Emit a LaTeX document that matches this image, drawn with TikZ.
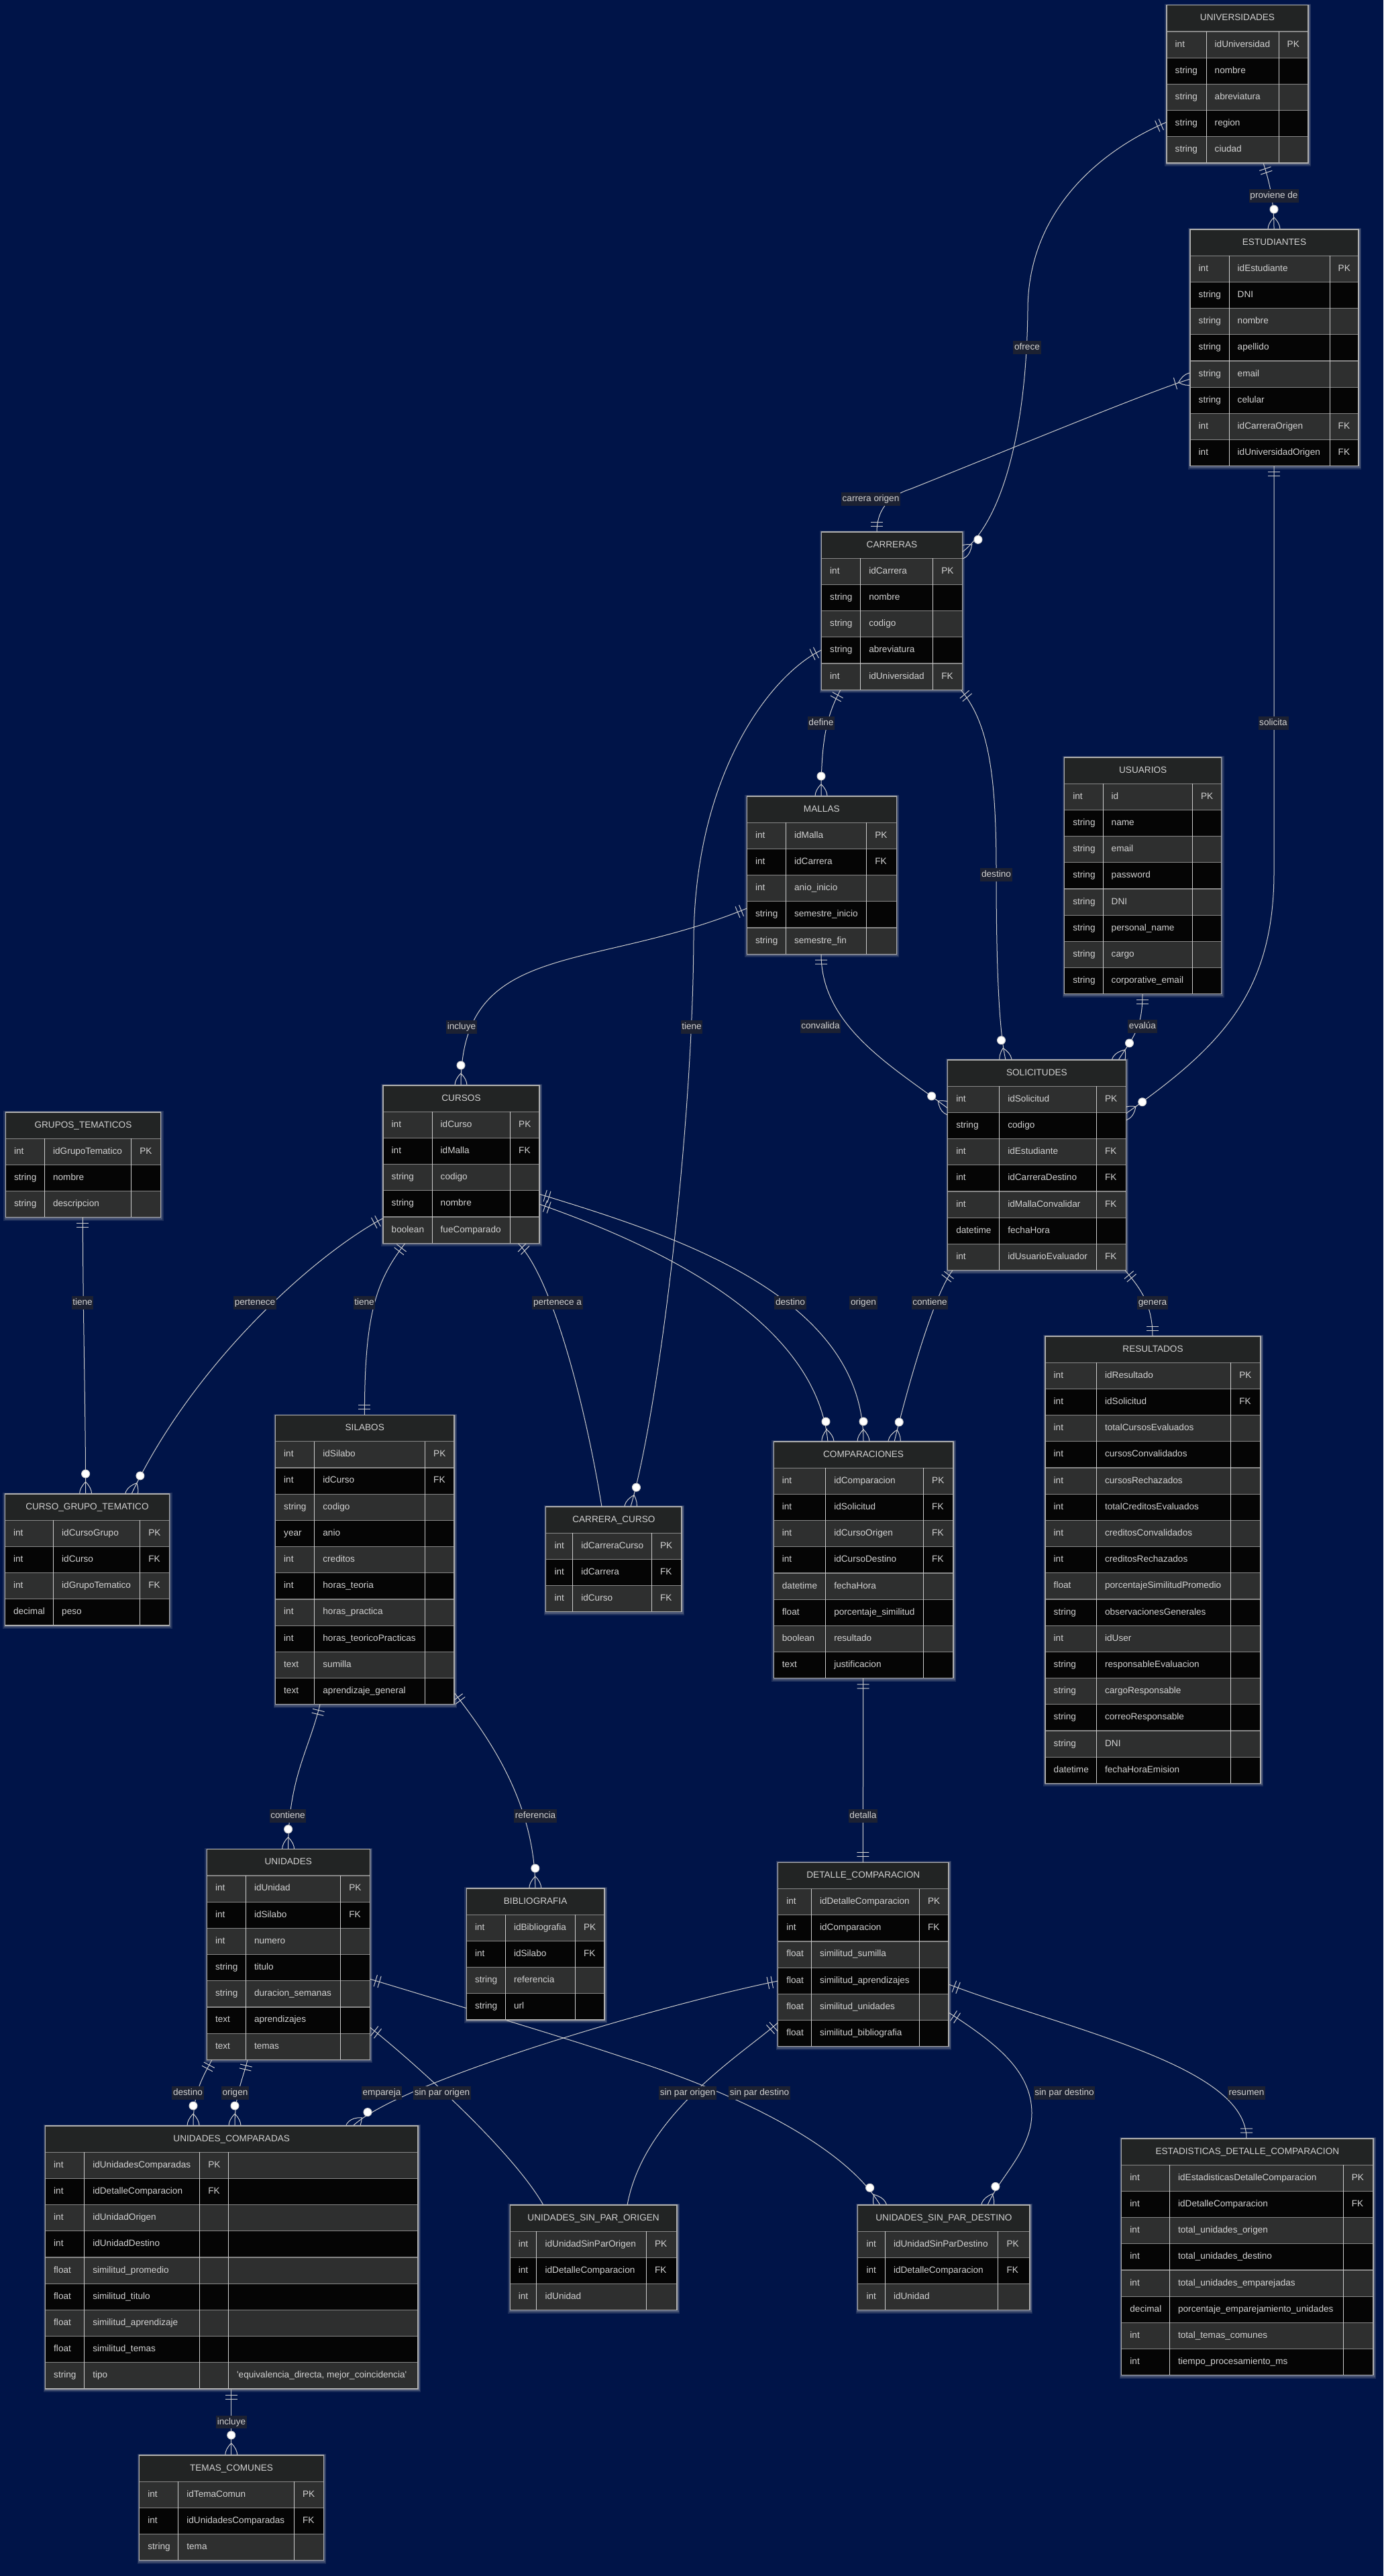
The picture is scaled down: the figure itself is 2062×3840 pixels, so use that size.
\documentclass[tikz,border=0pt]{standalone}
\usepackage{fontspec}
\setmainfont{Liberation Sans}
\usetikzlibrary{decorations.markings}
\definecolor{bgc}{RGB}{0,20,72}
\definecolor{hdrc}{RGB}{34,36,36}
\definecolor{rowa}{RGB}{46,47,47}
\definecolor{rowb}{RGB}{5,5,5}
\definecolor{hline}{RGB}{135,135,135}
\definecolor{vline}{RGB}{205,205,205}
\definecolor{bordc}{RGB}{175,175,175}
\definecolor{txtc}{RGB}{210,210,210}
\definecolor{edgec}{RGB}{205,205,205}
\definecolor{labelfill}{RGB}{28,33,50}
\definecolor{glowc}{RGB}{185,185,185}
\pgfdeclarelayer{back}
\pgfdeclarelayer{edges}
\pgfdeclarelayer{lblback}
\pgfdeclarelayer{lbls}
\pgfsetlayers{back,edges,lblback,lbls,main}
\newcommand\rowh{39.2}
\newcommand\tfont{\fontsize{13.6}{16}\selectfont}
\tikzset{
  ercell/.style={anchor=west, inner sep=0pt, text=txtc, font=\tfont, text height=9.8pt, text depth=2.9pt},
  erhead/.style={anchor=center, inner sep=0pt, text=txtc, font=\tfont, text height=9.8pt, text depth=2.9pt},
  erlabeltext/.style={anchor=center, text=txtc, font=\tfont, inner xsep=1.5pt, inner ysep=3pt, text height=9.8pt, text depth=2.9pt},
  hsep/.style={draw=hline, line width=1.2pt},
  vsep/.style={draw=vline, line width=1pt},
  tborder/.style={draw=bordc, line width=1.2pt},
  erline/.style={draw=edgec, line width=1pt},
  ermark/.style={draw=edgec, line width=1pt},
  onestart/.style={postaction={decorate,decoration={markings,
     mark=at position 0 with {\draw[ermark] (9pt,-9pt)--(9pt,9pt) (15pt,-9pt)--(15pt,9pt);}}}},
  oneend/.style={postaction={decorate,decoration={markings,
     mark=at position 1 with {\draw[ermark] (-9pt,-9pt)--(-9pt,9pt) (-15pt,-9pt)--(-15pt,9pt);}}}},
  zmanyend/.style={postaction={decorate,decoration={markings,
     mark=at position 1 with {\draw[ermark] (-18pt,0pt) .. controls (-6pt,-12pt) and (6pt,-12pt) .. (18pt,0pt) .. controls (6pt,12pt) and (-6pt,12pt) .. cycle;
        \filldraw[ermark,fill=white] (-30pt,0pt) circle[radius=6pt];}}}},
  omanyend/.style={postaction={decorate,decoration={markings,
     mark=at position 1 with {\draw[ermark] (-18pt,0pt) .. controls (-6pt,-12pt) and (6pt,-12pt) .. (18pt,0pt) .. controls (6pt,12pt) and (-6pt,12pt) .. cycle;
        \draw[ermark] (-23pt,-9pt)--(-23pt,9pt);}}}},
}
% #1 name, #2 title, #3 x0, #4 x1, #5 x2, #6 x3, #7 y0, #8 number of rows, #9 rows
\newcommand\ertab[9]{%
  \pgfmathsetmacro\tbot{#7+\rowh*(#8+1)}%
  \pgfmathsetmacro\tabw{#6-#3}%
  \pgfmathsetmacro\tabh{\tbot-#7}%
  \fill[glowc,opacity=0.16] ({#3-3},{#7-2}) rectangle ({#6+4},{\tbot+5});
  \fill[glowc,opacity=0.28] ({#3-1.5},{#7-1}) rectangle ({#6+2.5},{\tbot+3});
  \fill[hdrc] (#3,#7) rectangle (#6,{#7+\rowh});
  \node[erhead] (#1-h) at ({(#3+#6)/2},{#7+\rowh/2}) {#2};
  \foreach [count=\ri from 0] \cA/\cB/\cC in {#9} {%
    \pgfmathsetmacro\yt{#7+\rowh*(\ri+1)}%
    \pgfmathsetmacro\ym{\yt+\rowh/2}%
    \ifodd\ri\relax \def\rc{rowb}\else\def\rc{rowa}\fi
    \fill[\rc] (#3,\yt) rectangle (#6,{\yt+\rowh});
    \draw[hsep] (#3,\yt) -- (#6,\yt);
    \node[ercell] (#1-a\ri) at ({#3+12.5},\ym) {\cA};
    \node[ercell] (#1-b\ri) at ({#4+12.5},\ym) {\cB};
    \node[ercell] (#1-c\ri) at ({#5+12.5},\ym) {\cC};
  }
  \draw[vsep] (#4,{#7+\rowh}) -- (#4,\tbot) (#5,{#7+\rowh}) -- (#5,\tbot);
  \draw[tborder] (#3,#7) rectangle (#6,\tbot);
  \node[inner sep=0pt, outer sep=0pt, minimum width=\tabw pt, minimum height=\tabh pt, anchor=north west] (#1) at (#3,#7) {};
}
% connector label: text node on its own layer, plain fill behind it
\newcommand\erlab[4]{%
  \begin{pgfonlayer}{lbls}\node[erlabeltext] (#1) at (#2,#3) {#4};\end{pgfonlayer}%
  \begin{pgfonlayer}{lblback}\fill[labelfill] (#1.south west) rectangle (#1.north east);\end{pgfonlayer}%
}
\begin{document}
\begin{tikzpicture}[x=1pt,y=-1pt]
\useasboundingbox (0,0) rectangle (2062,3840);
\begin{pgfonlayer}{back}
\fill[bgc] (0,0) rectangle (2062,3840);
\end{pgfonlayer}

\ertab{univ}{UNIVERSIDADES}{1739}{1798}{1906}{1950}{7.8}{5}{int/idUniversidad/PK, string/nombre/{}, string/abreviatura/{}, string/region/{}, string/ciudad/{}}
\ertab{est}{ESTUDIANTES}{1774}{1832}{1982}{2025}{342}{8}{int/idEstudiante/PK, string/DNI/{}, string/nombre/{}, string/apellido/{}, string/email/{}, string/celular/{}, int/idCarreraOrigen/FK, int/idUniversidadOrigen/FK}
\ertab{car}{CARRERAS}{1224.5}{1282.6}{1390.6}{1434.4}{793}{5}{int/idCarrera/PK, string/nombre/{}, string/codigo/{}, string/abreviatura/{}, int/idUniversidad/FK}
\ertab{mal}{MALLAS}{1113.4}{1171.4}{1291.7}{1336.2}{1187}{5}{int/idMalla/PK, int/idCarrera/FK, int/anio\_inicio/{}, string/semestre\_inicio/{}, string/semestre\_fin/{}}
\ertab{usu}{USUARIOS}{1586.6}{1644}{1777.4}{1820.7}{1129}{8}{int/id/PK, string/name/{}, string/email/{}, string/password/{}, string/DNI/{}, string/personal\_name/{}, string/cargo/{}, string/corporative\_email/{}}
\ertab{sol}{SOLICITUDES}{1412.6}{1489.6}{1634.3}{1678.2}{1580}{7}{int/idSolicitud/PK, string/codigo/{}, int/idEstudiante/FK, int/idCarreraDestino/FK, int/idMallaConvalidar/FK, datetime/fechaHora/{}, int/idUsuarioEvaluador/FK}
\ertab{gru}{GRUPOS\_TEMATICOS}{8.4}{66.4}{195.6}{239.5}{1658}{3}{int/idGrupoTematico/PK, string/nombre/{}, string/descripcion/{}}
\ertab{cur}{CURSOS}{571}{644}{760.5}{804}{1618}{5}{int/idCurso/PK, int/idMalla/FK, string/codigo/{}, string/nombre/{}, boolean/fueComparado/{}}
\ertab{cgt}{CURSO\_GRUPO\_TEMATICO}{7.3}{79.5}{208.7}{252.6}{2227}{4}{int/idCursoGrupo/PK, int/idCurso/FK, int/idGrupoTematico/FK, decimal/peso/{}}
\ertab{sil}{SILABOS}{410.5}{468.7}{633.5}{677}{2109.5}{10}{int/idSilabo/PK, int/idCurso/FK, string/codigo/{}, year/anio/{}, int/creditos/{}, int/horas\_teoria/{}, int/horas\_practica/{}, int/horas\_teoricoPracticas/{}, text/sumilla/{}, text/aprendizaje\_general/{}}
\ertab{cc}{CARRERA\_CURSO}{813.8}{853.6}{971.4}{1016}{2246}{3}{int/idCarreraCurso/PK, int/idCarrera/FK, int/idCurso/FK}
\ertab{com}{COMPARACIONES}{1153.2}{1230.6}{1376.5}{1421}{2149}{8}{int/idComparacion/PK, int/idSolicitud/FK, int/idCursoOrigen/FK, int/idCursoDestino/FK, datetime/fechaHora/{}, float/porcentaje\_similitud/{}, boolean/resultado/{}, text/justificacion/{}}
\ertab{res}{RESULTADOS}{1558}{1634.4}{1834.7}{1879}{1992}{16}{int/idResultado/PK, int/idSolicitud/FK, int/totalCursosEvaluados/{}, int/cursosConvalidados/{}, int/cursosRechazados/{}, int/totalCreditosEvaluados/{}, int/creditosConvalidados/{}, int/creditosRechazados/{}, float/porcentajeSimilitudPromedio/{}, string/observacionesGenerales/{}, int/idUser/{}, string/responsableEvaluacion/{}, string/cargoResponsable/{}, string/correoResponsable/{}, string/DNI/{}, datetime/fechaHoraEmision/{}}
\ertab{uni}{UNIDADES}{308.4}{366.3}{507.6}{551.2}{2756.7}{7}{int/idUnidad/PK, int/idSilabo/FK, int/numero/{}, string/titulo/{}, string/duracion\_semanas/{}, text/aprendizajes/{}, text/temas/{}}
\ertab{bib}{BIBLIOGRAFIA}{695.3}{753.3}{857.3}{901}{2815}{4}{int/idBibliografia/PK, int/idSilabo/FK, string/referencia/{}, string/url/{}}
\ertab{det}{DETALLE\_COMPARACION}{1159.6}{1209.3}{1370.4}{1414}{2776.3}{6}{int/idDetalleComparacion/PK, int/idComparacion/FK, float/similitud\_sumilla/{}, float/similitud\_aprendizajes/{}, float/similitud\_unidades/{}, float/similitud\_bibliografia/{}}
\ertab{uc}{UNIDADES\_COMPARADAS}{67.5}{125.6}{297.7}{623}{3169}{9}{int/idUnidadesComparadas/PK, int/idDetalleComparacion/FK, int/idUnidadOrigen/{}, int/idUnidadDestino/{}, float/similitud\_promedio/{}, float/similitud\_titulo/{}, float/similitud\_aprendizaje/{}, float/similitud\_temas/{}, string/tipo/{}}
\draw[vsep] (340.4,3208.2) -- (340.4,3561);
\node[ercell] (uc-d8) at (352.9,3541.4) {\textquotesingle equivalencia\_directa, mejor\_coincidencia\textquotesingle};
\ertab{uspo}{UNIDADES\_SIN\_PAR\_ORIGEN}{760.2}{799.9}{963.4}{1009}{3287}{3}{int/idUnidadSinParOrigen/PK, int/idDetalleComparacion/FK, int/idUnidad/{}}
\ertab{uspd}{UNIDADES\_SIN\_PAR\_DESTINO}{1278.8}{1319.3}{1487.9}{1535}{3287}{3}{int/idUnidadSinParDestino/PK, int/idDetalleComparacion/FK, int/idUnidad/{}}
\ertab{estd}{ESTADISTICAS\_DETALLE\_COMPARACION}{1671.7}{1743.4}{2002.2}{2047}{3188}{8}{int/idEstadisticasDetalleComparacion/PK, int/idDetalleComparacion/FK, int/total\_unidades\_origen/{}, int/total\_unidades\_destino/{}, int/total\_unidades\_emparejadas/{}, decimal/porcentaje\_emparejamiento\_unidades/{}, int/total\_temas\_comunes/{}, int/tiempo\_procesamiento\_ms/{}}
\ertab{tc}{TEMAS\_COMUNES}{207.7}{265.7}{438.3}{482.3}{3660}{3}{int/idTemaComun/PK, int/idUnidadesComparadas/FK, string/tema/{}}

% connector labels
\erlab{l1}{1899}{292}{proviene de}
\erlab{l2}{1531}{518}{ofrece}
\erlab{l3}{1298}{744}{carrera origen}
\erlab{l4}{1224}{1078}{define}
\erlab{l5}{1485}{1304}{destino}
\erlab{l6}{1898}{1078}{solicita}
\erlab{l7}{1031}{1531}{tiene}
\erlab{l8}{688}{1531}{incluye}
\erlab{l9}{1223}{1530}{convalida}
\erlab{l10}{1703}{1530}{evalúa}
\erlab{l11}{380}{1942}{pertenece}
\erlab{l12}{123}{1942}{tiene}
\erlab{l13}{543}{1942}{tiene}
\erlab{l14}{831}{1942}{pertenece a}
\erlab{l15}{1178}{1942}{destino}
\erlab{l16}{1287}{1942}{origen}
\erlab{l17}{1386}{1942}{contiene}
\erlab{l18}{1718}{1942}{genera}
\erlab{l19}{429}{2707}{contiene}
\erlab{l20}{798}{2707}{referencia}
\erlab{l21}{1286.5}{2707}{detalla}
\erlab{l22}{280}{3120}{destino}
\erlab{l23}{350.5}{3120}{origen}
\erlab{l24}{569}{3120}{empareja}
\erlab{l25}{659}{3120}{sin par origen}
\erlab{l26}{1025}{3120}{sin par origen}
\erlab{l27}{1132}{3120}{sin par destino}
\erlab{l28}{1586.5}{3120}{sin par destino}
\erlab{l29}{1858}{3120}{resumen}
\erlab{l30}{345}{3610.7}{incluye}

\begin{pgfonlayer}{edges}
% proviene de
\draw[erline,onestart,zmanyend] ([xshift=144pt]univ.south west) .. controls +(10,30) and +(0,-40) .. ([xshift=125pt]est.north west);
% ofrece
\coordinate (w2) at (1532,462);
\draw[erline,onestart,zmanyend] ([yshift=-174.2pt]univ.north west) .. controls +(-120,52) and (1532,330) .. (w2) .. controls (1530,640) and (1495,775) .. ([yshift=-30pt]car.north east);
% carrera origen
\coordinate (w3) at (1357,729);
\draw[erline,onestart,omanyend] ([xshift=82.5pt]car.north west) .. controls +(0,-30) and (1322,740) .. (w3) .. controls (1500,672) and +(-60,18) .. ([yshift=-223pt]est.north west);
% define
\draw[erline,onestart,zmanyend] ([xshift=28.5pt]car.south west) .. controls +(-22,40) and +(0,-80) .. ([xshift=110.6pt]mal.north west);
% destino (carreras -> solicitudes)
\coordinate (w5) at (1485,1300);
\draw[erline,onestart,zmanyend] ([xshift=207.5pt]car.south west) .. controls +(43,51) and (1485,1160) .. (w5) .. controls (1485,1440) and +(-10,-45) .. ([xshift=86.4pt]sol.north west);
% tiene (carreras -> carrera_curso)
\coordinate (w6) at (1034,1400);
\draw[erline,onestart,zmanyend] ([yshift=-176pt]car.north west) .. controls +(-74,36) and (1036,1150) .. (w6) .. controls (1032,1700) and (980,2110) .. ([xshift=126.2pt]cc.north west);
% solicita
\coordinate (w7) at (1899,1300);
\draw[erline,onestart,zmanyend] ([xshift=125pt]est.south west) -- (w7) .. controls (1899,1480) and (1820,1560) .. ([yshift=-80pt]sol.north east);
% incluye (mallas -> cursos)
\draw[erline,onestart,zmanyend] ([yshift=-167pt]mal.north west) .. controls (880,1450) and (687,1400) .. ([xshift=116pt]cur.north west);
% convalida
\draw[erline,onestart,zmanyend] ([xshift=110.6pt]mal.south west) .. controls +(0,108) and +(-82,-62) .. ([yshift=-72pt]sol.north west);
% evalua
\draw[erline,onestart,zmanyend] ([xshift=116.4pt]usu.south west) .. controls +(0,50) and +(23,-35) .. ([xshift=254.4pt]sol.north west);
% genera
\draw[erline,onestart,oneend] ([xshift=264.4pt]sol.south west) .. controls +(23,27) and +(0,-47) .. ([xshift=160pt]res.north west);
% contiene (solicitudes -> comparaciones)
\draw[erline,onestart,zmanyend] ([xshift=7.4pt]sol.south west) .. controls +(-25,32) and +(27,-109) .. ([xshift=179.8pt]com.north west);
% origen (cursos -> comparaciones)
\draw[erline,onestart,zmanyend] ([yshift=-162pt]cur.north east) .. controls (1000,1840) and (1287,1930) .. ([xshift=133.8pt]com.north west);
% destino (cursos -> comparaciones)
\draw[erline,onestart,zmanyend] ([yshift=-177pt]cur.north east) .. controls (960,1850) and (1215,1960) .. ([xshift=80.8pt]com.north west);
% pertenece a
\draw[erline,onestart,zmanyend] ([xshift=201pt]cur.south west) .. controls (820,1900) and (870,2080) .. ([xshift=83.2pt]cc.north west);
% tiene (cursos -> silabos)
\draw[erline,onestart,oneend] ([xshift=33pt]cur.south west) .. controls (560,1910) and (543.4,1960) .. ([xshift=132.9pt]sil.north west);
% pertenece
\draw[erline,onestart,zmanyend] ([yshift=-198pt]cur.north west) .. controls (470,1870) and (290,2030) .. ([xshift=188.7pt]cgt.north west);
% tiene (grupos -> cgt)
\draw[erline,onestart,zmanyend] ([xshift=115pt]gru.south west) .. controls +(0,135) and +(0,-127) .. ([xshift=120.3pt]cgt.north west);
% contiene (silabos -> unidades)
\draw[erline,onestart,zmanyend] ([xshift=66.5pt]sil.south west) .. controls +(-17,70) and +(0,-106) .. ([xshift=121.2pt]uni.north west);
% referencia
\draw[erline,onestart,zmanyend] ([yshift=-413.5pt]sil.north east) .. controls (720,2580) and (797.8,2680) .. ([xshift=102.5pt]bib.north west);
% detalla
\draw[erline,onestart,oneend] ([xshift=133.4pt]com.south west) -- ([xshift=126.8pt]det.north west);
% empareja
\draw[erline,onestart,zmanyend] ([yshift=-176.7pt]det.north west) .. controls (1000,2985) and (600,3100) .. ([xshift=458.5pt]uc.north west);
% origen (unidades -> uc)
\draw[erline,onestart,zmanyend] ([xshift=60.6pt]uni.south west) .. controls +(-7,30) and +(0,-49) .. ([xshift=282.5pt]uc.north west);
% destino (unidades -> uc)
\draw[erline,onestart,zmanyend] ([xshift=7.6pt]uni.south west) .. controls +(-16,30) and +(0,-49) .. ([xshift=220.5pt]uc.north west);
% sin par origen (unidades -> uspo)
\draw[erline,onestart,zmanyend] ([yshift=-265.3pt]uni.north east) .. controls (600,3060) and (760,3200) .. ([xshift=49.8pt]uspo.north west);
% sin par destino (unidades -> uspd)
\coordinate (w26) at (930,3067);
\draw[erline,onestart,zmanyend] ([yshift=-193.3pt]uni.north east) .. controls (700,2995) and (850,3040) .. (w26) .. controls (1100,3120) and (1260,3200) .. ([xshift=33.2pt]uspd.north west);
% sin par origen (detalle -> uspo)
\draw[erline,onestart,zmanyend] ([yshift=-238.7pt]det.north west) .. controls (1110,3060) and (960,3150) .. ([xshift=174.8pt]uspo.north west);
% sin par destino (detalle -> uspd)
\coordinate (w28) at (1538,3150);
\draw[erline,onestart,zmanyend] ([yshift=-223.7pt]det.north east) .. controls (1480,3043) and (1538,3085) .. (w28) .. controls (1538,3205) and (1490,3245) .. ([xshift=193.2pt]uspd.north west);
% resumen
\draw[erline,onestart,oneend] ([yshift=-181.7pt]det.north east) .. controls (1600,3028) and (1858,3080) .. ([xshift=186.3pt]estd.north west);
% incluye (uc -> temas)
\draw[erline,onestart,zmanyend] ([xshift=277.2pt]uc.south west) -- ([xshift=137pt]tc.north west);
\end{pgfonlayer}
\end{tikzpicture}
\end{document}
